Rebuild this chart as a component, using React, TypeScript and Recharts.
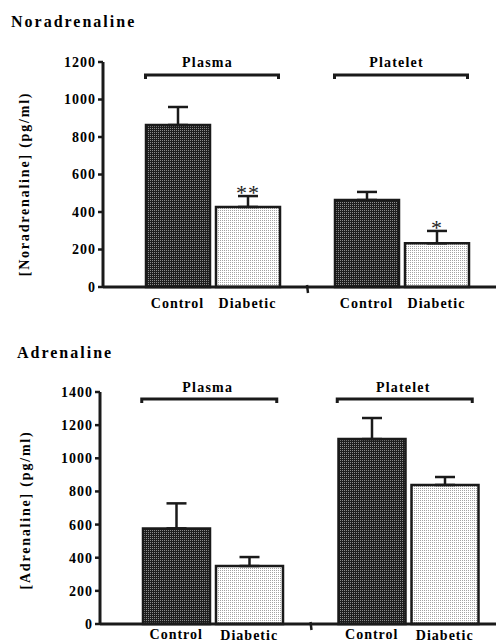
import React from 'react'
import { BarChart, Bar, XAxis, YAxis, ErrorBar, LabelList } from 'recharts'

const groups = ['Plasma', 'Platelet']
const conditions = ['Control', 'Diabetic']

// Noradrenaline, pg/ml (mean + SEM)
const noradControl = [864, 464]
const noradControlSem = [96, 43]
const noradDiabetic = [427, 233]
const noradDiabeticSem = [58, 66]
const noradStars = ['**', '*']
const noradTicks = [0, 200, 400, 600, 800, 1000, 1200]

// Adrenaline, pg/ml (mean + SEM)
const adrControl = [577, 1116]
const adrControlSem = [151, 127]
const adrDiabetic = [350, 839]
const adrDiabeticSem = [54, 48]
const adrStars = ['', '']
const adrTicks = [0, 200, 400, 600, 800, 1000, 1200, 1400]

const INK = '#1a1a1a'
const SERIF = '"Liberation Serif", "Times New Roman", serif'

type Row = {
  group: string
  control: number
  diabetic: number
  controlErr: number[]
  diabeticErr: number[]
  star: string
}

const buildRows = (ctl: number[], ctlSem: number[], dia: number[], diaSem: number[], stars: string[]): Row[] =>
  groups.map((g, i) => ({
    group: g,
    control: ctl[i],
    diabetic: dia[i],
    controlErr: [0, ctlSem[i]],
    diabeticErr: [0, diaSem[i]],
    star: stars[i],
  }))

type Layout = {
  id: string
  top: number
  width: number
  height: number
  marginTop: number
  marginBottom: number
  xAxisHeight: number
  yAxisWidth: number
  padLeft: number
  barSize: number
  barGap: number
  labelDy: number[]
  groupLabelDy: number
  bracketDy: number
  bracket: number[]
  titleX: number
  titleTop: number
  yLabelX: number
  yLabelY: number
}

const boldText = { fontFamily: SERIF, fontWeight: 700, fontSize: 14, fill: '#000' }

// Bottom axis tick: condition names under each bar, the group bracket
// above the plot, and the small break mark between the two groups.
const GroupTick = (props: any) => {
  const { x, y, index, payload, cfg } = props
  const half = cfg.barSize / 2 + cfg.barGap / 2
  const band = (cfg.width - cfg.yAxisWidth - cfg.padLeft) / 2
  const by = cfg.marginTop + cfg.bracketDy
  const x1 = x + cfg.bracket[0]
  const x2 = x + cfg.bracket[1]
  return (
    <g>
      <text x={x - half} y={y + cfg.labelDy[0]} textAnchor="middle" letterSpacing={1} {...boldText}>
        {conditions[0]}
      </text>
      <text x={x + half} y={y + cfg.labelDy[1]} textAnchor="middle" letterSpacing={1} {...boldText}>
        {conditions[1]}
      </text>
      {index === 0 && (
        <line x1={x + band / 2} y1={y - 2} x2={x + band / 2 + 1} y2={y + 6} stroke={INK} strokeWidth={2.5} />
      )}
      <text x={x - 5} y={cfg.marginTop + cfg.groupLabelDy} textAnchor="middle" letterSpacing={1.2} {...boldText}>
        {payload.value}
      </text>
      <path d={`M${x1},${by + 4} L${x1},${by} L${x2},${by} L${x2},${by + 4}`} fill="none" stroke={INK} strokeWidth={3} />
    </g>
  )
}

const StarLabel = (props: any) => {
  const { x, y, width, height, index, rows } = props
  const row: Row = rows[index]
  if (!row || !row.star) return null
  const capY = y - (row.diabeticErr[1] * height) / row.diabetic
  return (
    <text
      x={x + width / 2}
      y={capY + 4}
      textAnchor="middle"
      fontFamily={SERIF}
      fontSize={22}
      letterSpacing={1}
      fill="#222"
    >
      {row.star}
    </text>
  )
}

const YTitle = (props: any) => {
  const { text, cx, cy } = props
  return (
    <text
      x={cx}
      y={cy}
      transform={`rotate(-90 ${cx} ${cy})`}
      textAnchor="middle"
      dominantBaseline="central"
      letterSpacing={1.8}
      {...boldText}
    >
      {text}
    </text>
  )
}

const Panel = ({ title, yLabel, rows, ticks, cfg }: { title: string; yLabel: string; rows: Row[]; ticks: number[]; cfg: Layout }) => (
  <div style={{ position: 'absolute', left: 0, top: cfg.top, width: cfg.width, height: cfg.height }}>
    <div
      style={{
        position: 'absolute',
        left: cfg.titleX,
        top: cfg.titleTop,
        fontFamily: SERIF,
        fontWeight: 700,
        fontSize: 16,
        lineHeight: '16px',
        letterSpacing: 2,
        color: '#000',
        whiteSpace: 'nowrap',
      }}
    >
      {title}
    </div>
    <BarChart
      width={cfg.width}
      height={cfg.height}
      data={rows}
      barSize={cfg.barSize}
      barGap={cfg.barGap}
      margin={{ top: cfg.marginTop, right: 0, bottom: cfg.marginBottom, left: 0 }}
    >
      <defs>
        <pattern id={`${cfg.id}-dark`} width={2} height={2} patternUnits="userSpaceOnUse">
          <rect width={2} height={2} fill="#1e1e1e" />
          <rect width={1} height={1} fill="#8c8c8c" />
        </pattern>
        <pattern id={`${cfg.id}-light`} width={2} height={2} patternUnits="userSpaceOnUse">
          <rect width={2} height={2} fill="#ffffff" />
          <rect width={1} height={1} fill="#a4a4a4" />
        </pattern>
      </defs>
      <XAxis
        dataKey="group"
        interval={0}
        height={cfg.xAxisHeight}
        padding={{ left: cfg.padLeft, right: 0 }}
        axisLine={{ stroke: INK, strokeWidth: 3 }}
        tickLine={false}
        tickSize={0}
        tickMargin={0}
        tick={<GroupTick cfg={cfg} />}
      />
      <YAxis
        width={cfg.yAxisWidth}
        domain={[0, ticks[ticks.length - 1]]}
        ticks={ticks}
        interval={0}
        tickSize={5}
        tickMargin={2}
        axisLine={{ stroke: INK, strokeWidth: 3 }}
        tickLine={{ stroke: INK, strokeWidth: 2.5 }}
        tick={{ fill: '#000', fontFamily: SERIF, fontWeight: 700, fontSize: 14, letterSpacing: 1 }}
        label={<YTitle text={yLabel} cx={cfg.yLabelX} cy={cfg.yLabelY} />}
      />
      <Bar dataKey="control" fill={`url(#${cfg.id}-dark)`} stroke={INK} strokeWidth={2.5} isAnimationActive={false}>
        <ErrorBar dataKey="controlErr" direction="y" width={10} stroke={INK} strokeWidth={2.5} />
      </Bar>
      <Bar dataKey="diabetic" fill={`url(#${cfg.id}-light)`} stroke={INK} strokeWidth={2.5} isAnimationActive={false}>
        <ErrorBar dataKey="diabeticErr" direction="y" width={10} stroke={INK} strokeWidth={2.5} />
        <LabelList dataKey="star" content={<StarLabel rows={rows} />} />
      </Bar>
    </BarChart>
  </div>
)

const noradLayout: Layout = {
  id: 'norad',
  top: 0,
  width: 496,
  height: 320,
  marginTop: 62,
  marginBottom: 3,
  xAxisHeight: 30,
  yAxisWidth: 103,
  padLeft: 15,
  barSize: 64,
  barGap: 6,
  labelDy: [21, 21],
  groupLabelDy: 5,
  bracketDy: 13,
  bracket: [-67, 66],
  titleX: 11,
  titleTop: 14,
  yLabelX: 24,
  yLabelY: 184,
}

const adrLayout: Layout = {
  id: 'adr',
  top: 330,
  width: 506,
  height: 314,
  marginTop: 62,
  marginBottom: 0,
  xAxisHeight: 20,
  yAxisWidth: 100,
  padLeft: 15,
  barSize: 67,
  barGap: 6,
  labelDy: [15, 16],
  groupLabelDy: 0,
  bracketDy: 7,
  bracket: [-71, 64],
  titleX: 17,
  titleTop: 15,
  yLabelX: 25,
  yLabelY: 180,
}

export default function App() {
  const noradRows = buildRows(noradControl, noradControlSem, noradDiabetic, noradDiabeticSem, noradStars)
  const adrRows = buildRows(adrControl, adrControlSem, adrDiabetic, adrDiabeticSem, adrStars)
  return (
    <div style={{ position: 'absolute', left: 0, top: 0, width: 496, height: 644, overflow: 'hidden', background: '#fff' }}>
      <Panel title="Noradrenaline" yLabel="[Noradrenaline] (pg/ml)" rows={noradRows} ticks={noradTicks} cfg={noradLayout} />
      <Panel title="Adrenaline" yLabel="[Adrenaline] (pg/ml)" rows={adrRows} ticks={adrTicks} cfg={adrLayout} />
    </div>
  )
}
